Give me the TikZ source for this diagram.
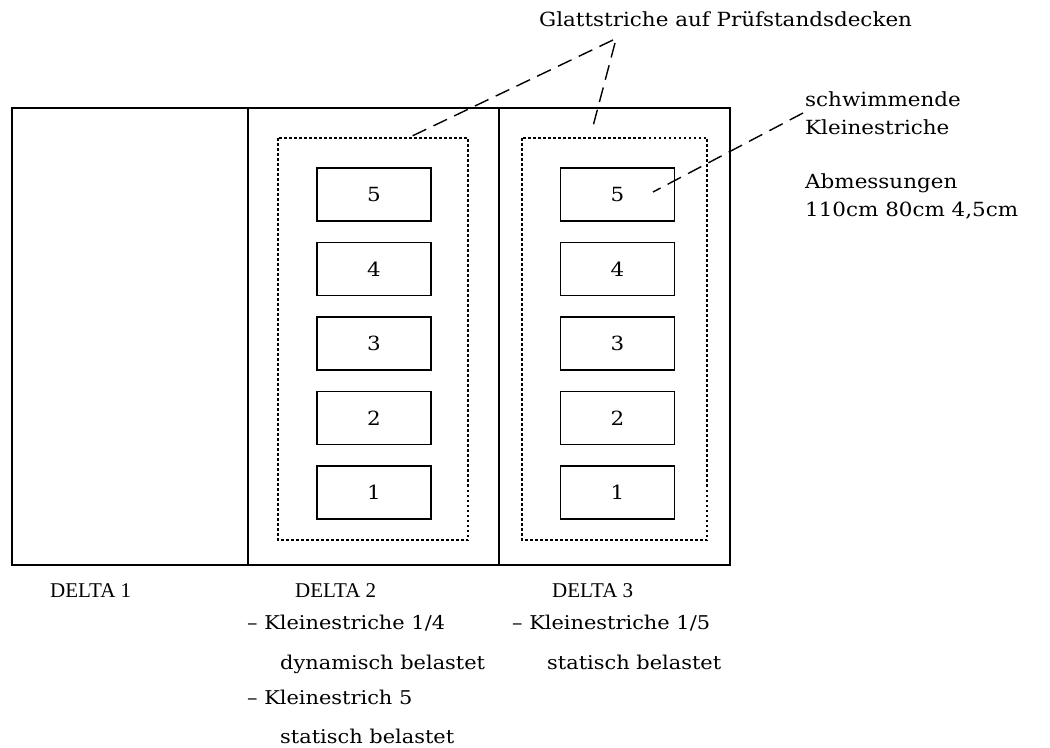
\documentclass[tikz,border=0pt]{standalone}
\usepackage{fontspec}
\newfontfamily\reffont{DejaVu Serif}[FakeStretch=1.1]
\newfontfamily\delfont{Liberation Serif}
\begin{document}
\begin{tikzpicture}[x=1bp,y=-1bp,
  frame/.style={line width=1.6bp},
  dotbox/.style={line width=1.5bp, dash pattern=on 2.5bp off 2.5bp},
  kbox/.style={draw, line width=1.6bp, minimum width=114bp, minimum height=53bp, inner sep=0pt, font=\reffont\fontsize{19.5bp}{23bp}\selectfont},
  txt/.style={inner sep=0pt, anchor=base west, font=\reffont\fontsize{19.5bp}{23bp}\selectfont},
  btxt/.style={inner sep=0pt, anchor=base west, font=\reffont\fontsize{19bp}{23bp}\selectfont},
  dtxt/.style={inner sep=0pt, anchor=base west, font=\delfont\fontsize{21bp}{23bp}\selectfont},
  leader/.style={line width=1.4bp, dash pattern=on 15bp off 8bp}]
\useasboundingbox (0,0) rectangle (1050,748);
% panels
\draw[frame] (12,108) rectangle (730,565);
\draw[frame] (248,108) -- (248,565);
\draw[frame] (499,108) -- (499,565);
\draw[dotbox] (278,138) rectangle (468,540);
\draw[dotbox] (522,138) rectangle (707,540);
% small screeds
\foreach \n/\yy in {5/194.5, 4/269, 3/343.5, 2/418, 1/492.5}{
  \node[kbox] (a\n) at (374,\yy) {\n};
  \node[kbox] (b\n) at (617.5,\yy) {\n};
}
% labels
\node[txt] (glatt) at (539,27) {Glattstriche auf Prüfstandsdecken};
\node[txt] (schw) at (805,106) {schwimmende};
\node[txt] (klein) at (805,134) {Kleinestriche};
\node[txt] (abm) at (805,188) {Abmessungen};
\node[txt] (dim) at (805,216) {110cm 80cm 4,5cm};
\node[dtxt] (d1) at (50,597) {DELTA 1};
\node[dtxt] (d2) at (295,597) {DELTA 2};
\node[dtxt] (d3) at (552,597) {DELTA 3};
\node[btxt] (t21) at (247,629) {– Kleinestriche 1/4};
\node[btxt] (t22) at (280,669) {dynamisch belastet};
\node[btxt] (t23) at (247,704) {– Kleinestrich 5};
\node[btxt] (t24) at (280,743) {statisch belastet};
\node[btxt] (t31) at (512,629) {– Kleinestriche 1/5};
\node[btxt] (t32) at (547,669) {statisch belastet};
% leaders
\coordinate (g1) at (613,40);
\coordinate (g2) at (615,43);
\coordinate (e1) at (408,138);
\coordinate (e2) at (592,130);
\coordinate (s1) at (803,113);
\coordinate (e3) at (653,192);
\draw[leader] (g1) -- (e1);
\draw[leader] (g2) -- (e2);
\draw[leader] (s1) -- (e3);
\end{tikzpicture}
\end{document}
